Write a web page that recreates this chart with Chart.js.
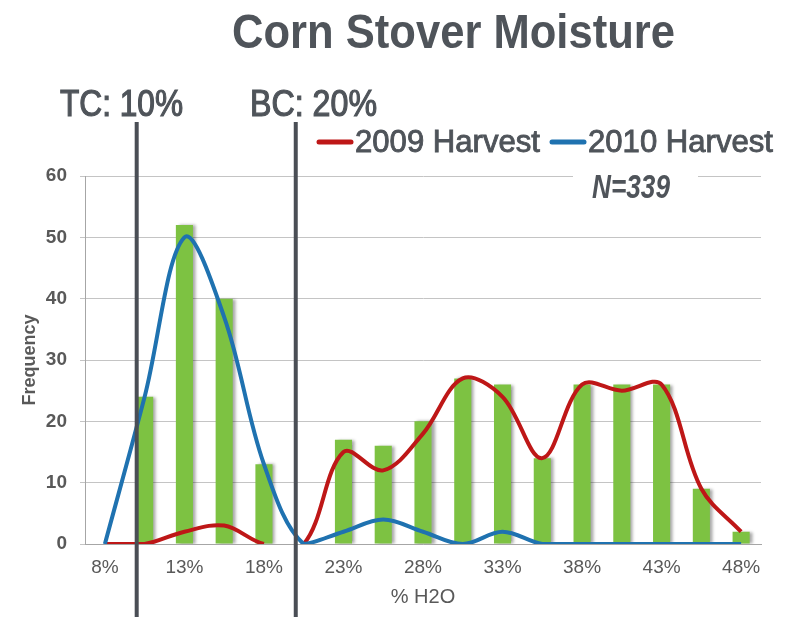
<!DOCTYPE html>
<html>
<head>
<meta charset="utf-8">
<title>Corn Stover Moisture</title>
<script src="https://cdn.jsdelivr.net/npm/chart.js@4.4.1/dist/chart.umd.min.js"></script>
<style>
  html, body { margin: 0; padding: 0; background: #fff; }
  #wrap { width: 786px; height: 617px; position: relative; }
</style>
</head>
<body>
<div id="wrap"><canvas id="chart"></canvas></div>
<script>
// moisture bins (% H2O), bin centres and labels
const binCenters = [8, 10.5, 13, 15.5, 18, 20.5, 23, 25.5, 28, 30.5, 33, 35.5, 38, 40.5, 43, 45.5, 48];
const binLabels = ['8%', '10.5%', '13%', '15.5%', '18%', '20.5%', '23%', '25.5%', '28%', '30.5%', '33%', '35.5%', '38%', '40.5%', '43%', '45.5%', '48%'];

// frequency per bin (both harvests) and per harvest
const totalFreq = [0, 24, 52, 40, 13, 0, 17, 16, 20, 27, 26, 14, 26, 26, 26, 9, 2];
const harvest2009 = [0, 0, 2, 3, 0, 0, 15, 12, 18, 27, 24, 14, 26, 25, 26, 9, 2];
const harvest2010 = [0, 24, 50, 37, 13, 0, 2, 4, 2, 0, 2, 0, 0, 0, 0, 0, 0];

const yTicks = [0, 10, 20, 30, 40, 50, 60];
const thresholds = [
    { label: 'TC: 10%', value: 10 },
    { label: 'BC: 20%', value: 20 }
];
const sampleNote = 'N=339';

const green = '#7dc242';
const red = '#be1717';
const blue = '#1f72b0';
const textGrey = '#595959';
const darkText = '#4f545a';
const FONT = "'Liberation Sans', Arial, sans-serif";

// draws text squeezed to a given width (the source uses a condensed face)
function fitText(ctx, text, left, baseline, width, font, color, weight) {
    ctx.save();
    ctx.font = font;
    ctx.fillStyle = color;
    ctx.textAlign = 'left';
    ctx.textBaseline = 'alphabetic';
    const w = ctx.measureText(text).width;
    ctx.translate(left, baseline);
    ctx.scale(width / w, 1);
    ctx.fillText(text, 0, 0);
    if (weight) {
        ctx.strokeStyle = color;
        ctx.lineWidth = weight;
        ctx.strokeText(text, 0, 0);
    }
    ctx.restore();
}

// 10% -> fractional category index between bin centres
function binIndexOf(v) {
    for (let i = 0; i < binCenters.length - 1; i++) {
        if (v >= binCenters[i] && v <= binCenters[i + 1]) {
            return i + (v - binCenters[i]) / (binCenters[i + 1] - binCenters[i]);
        }
    }
    return 0;
}

const thresholdLabelLeft = [60, 250];
const thresholdLabelWidth = [123, 127];

const decorations = {
    id: 'decorations',
    beforeDatasetDraw(chart, args) {
        if (args.index === 0) {
            const c = chart.ctx;
            c.save();
            c.shadowColor = 'rgba(0,0,0,0.35)';
            c.shadowOffsetX = 3;
            c.shadowBlur = 3;
        }
    },
    afterDatasetDraw(chart, args) {
        if (args.index === 0) chart.ctx.restore();
    },
    afterDraw(chart) {
        const ctx = chart.ctx;
        const x = chart.scales.x;

        // title
        fitText(ctx, 'Corn Stover Moisture', 232, 48, 443, 'bold 49px ' + FONT, darkText);

        // threshold lines + labels
        thresholds.forEach((t, i) => {
            const px = x.getPixelForValue(binIndexOf(t.value));
            ctx.save();
            ctx.strokeStyle = '#4a4e55';
            ctx.lineWidth = 4;
            ctx.beginPath();
            ctx.moveTo(px, 122);
            ctx.lineTo(px, 617);
            ctx.stroke();
            ctx.restore();
            fitText(ctx, t.label, thresholdLabelLeft[i], 116, thresholdLabelWidth[i], '36px ' + FONT, darkText, 1.2);
        });

        // legend
        const legendX = [317, 550];
        [1, 2].forEach((di, k) => {
            const ds = chart.data.datasets[di];
            ctx.save();
            ctx.strokeStyle = ds.borderColor;
            ctx.lineWidth = 5;
            ctx.lineCap = 'round';
            ctx.beginPath();
            ctx.moveTo(legendX[k] + 2, 142);
            ctx.lineTo(legendX[k] + 34, 142);
            ctx.stroke();
            ctx.restore();
            fitText(ctx, ds.label, legendX[k] + 38, 152, 185, '31px ' + FONT, darkText, 0.9);
        });

        // sample size note over the top gridline
        ctx.save();
        ctx.fillStyle = '#fff';
        ctx.fillRect(573, 168, 125, 34);
        ctx.restore();
        fitText(ctx, sampleNote, 592, 198, 78, 'italic bold 33px ' + FONT, darkText);
    }
};

new Chart(document.getElementById('chart'), {
    type: 'bar',
    data: {
        labels: binLabels,
        datasets: [
            {
                label: 'Frequency',
                data: totalFreq,
                backgroundColor: green,
                categoryPercentage: 1,
                barPercentage: 0.43,
                order: 3
            },
            {
                type: 'line',
                label: '2009 Harvest',
                data: harvest2009,
                borderColor: red,
                borderWidth: 4,
                pointRadius: 0,
                tension: 0.35,
                fill: false,
                order: 2,
                segment: {
                    // no curve drawn across the 18%-20.5% gap in the source
                    borderColor: c => c.p0DataIndex === 4 ? 'rgba(0,0,0,0)' : undefined
                }
            },
            {
                type: 'line',
                label: '2010 Harvest',
                data: harvest2010,
                borderColor: blue,
                borderWidth: 4,
                pointRadius: 0,
                tension: 0.35,
                fill: false,
                order: 1
            }
        ]
    },
    options: {
        responsive: true,
        maintainAspectRatio: false,
        animation: false,
        layout: { padding: { top: 176, right: 25, left: 0, bottom: 0 } },
        plugins: {
            legend: { display: false },
            title: { display: false },
            tooltip: { enabled: false }
        },
        scales: {
            x: {
                offset: true,
                grid: { display: false, drawTicks: false },
                border: { display: true, color: '#a6a6a6', width: 1 },
                ticks: {
                    autoSkip: false,
                    maxRotation: 0,
                    padding: 12,
                    color: textGrey,
                    font: { family: FONT, size: 19 },
                    callback: (v, i) => i % 2 === 0 ? binLabels[i] : ''
                },
                title: {
                    display: true,
                    text: '% H2O',
                    color: textGrey,
                    font: { family: FONT, size: 20 },
                    padding: { top: 0, bottom: 8 }
                },
                afterFit: s => { s.height = 73; }
            },
            y: {
                min: yTicks[0],
                max: yTicks[yTicks.length - 1],
                ticks: {
                    stepSize: 10,
                    padding: 13,
                    color: textGrey,
                    font: { family: FONT, size: 19, weight: 'bold' }
                },
                grid: { color: '#c4c4c4', tickLength: 5, lineWidth: 1 },
                border: { display: true, color: '#a6a6a6', width: 1 },
                title: {
                    display: true,
                    text: 'Frequency',
                    color: textGrey,
                    font: { family: FONT, size: 18, weight: 'bold' },
                    padding: { top: 19, bottom: 0 }
                },
                afterFit: s => { s.width = 85; }
            }
        }
    },
    plugins: [decorations]
});
</script>
</body>
</html>
